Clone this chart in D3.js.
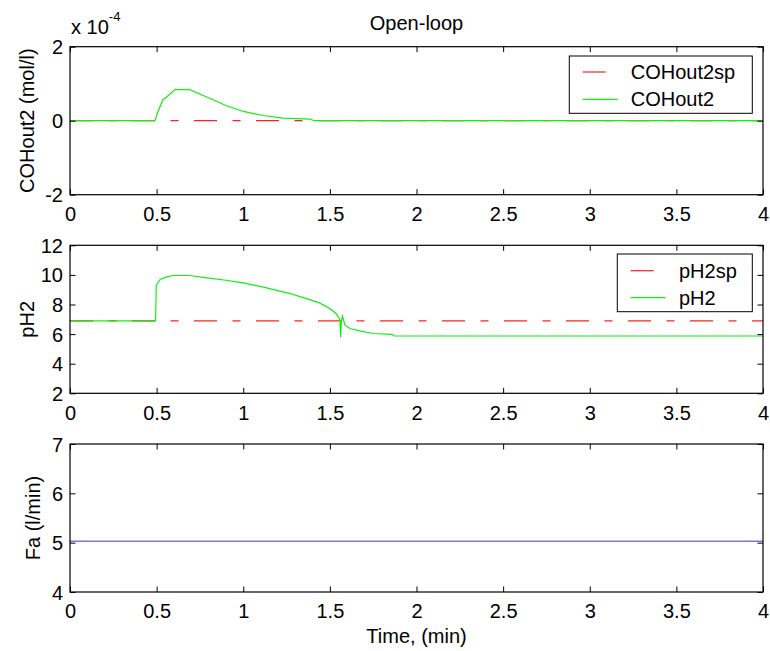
<!DOCTYPE html>
<html><head><meta charset="utf-8">
<script src="https://cdn.jsdelivr.net/npm/d3@7"></script>
<style>
body{margin:0;background:#fff}
text{font-family:"Liberation Sans",Arial,sans-serif;fill:#000}
</style>
</head><body>
<svg id="chart" width="770" height="651"></svg>
<script>
// ---------- data ----------
const timeTicks = [0, 0.5, 1, 1.5, 2, 2.5, 3, 3.5, 4];
const timeTickLabels = ["0", "0.5", "1", "1.5", "2", "2.5", "3", "3.5", "4"];

// Panel 1: COHout2 (mol/l)
const coTicks = [-2e-4, 0, 2e-4];
const coTickLabels = ["-2", "0", "2"];
const coSpTime = [0, 4];
const coSpValues = [0, 0];
const coTime = [0, 0.49, 0.51, 0.535, 0.558, 0.606, 0.69, 0.79, 0.90, 1.0, 1.115, 1.23, 1.385, 1.41, 4];
const coValues = [0, 0, 0.27e-4, 0.56e-4, 0.64e-4, 0.84e-4, 0.84e-4, 0.64e-4, 0.41e-4, 0.25e-4, 0.14e-4, 0.07e-4, 0.045e-4, 0, 0];

// Panel 2: pH2
const phTicks = [2, 4, 6, 8, 10, 12];
const phTickLabels = ["2", "4", "6", "8", "10", "12"];
const phSpTime = [0, 4];
const phSpValues = [6.9, 6.9];
const phTime = [0, 0.494, 0.498, 0.52, 0.558, 0.596, 0.69, 0.79, 0.90, 1.0, 1.135, 1.27, 1.365, 1.44, 1.5, 1.535, 1.548, 1.558, 1.562, 1.567, 1.573, 1.587, 1.615, 1.673, 1.75, 1.86, 1.87, 4];
const phValues = [6.9, 6.9, 9.30, 9.69, 9.87, 9.96, 9.96, 9.80, 9.64, 9.46, 9.12, 8.74, 8.40, 8.11, 7.73, 7.39, 7.17, 6.94, 5.78, 6.94, 7.21, 6.60, 6.38, 6.22, 6.04, 5.98, 5.87, 5.87];

// Panel 3: Fa (l/min)
const faTicks = [4, 5, 6, 7];
const faTickLabels = ["4", "5", "6", "7"];
const faTime = [0, 4];
const faValues = [5.03, 5.03];

// ---------- layout ----------
const svg = d3.select("#chart");
const left = 70, right = 763, panelH = 148;
const tops = [46.7, 245.3, 444];
const FS = 20;
const red = "#ff2020", green = "#10f010", blue = "#2a3ad0";

const x = d3.scaleLinear().domain([0, 4]).range([left, right]);

function panel(top, ydomain, yticks, ylabels, ylabelText, ylabelX, series, legend) {
  const bottom = top + panelH;
  const y = d3.scaleLinear().domain(ydomain).range([bottom, top]);
  const g = svg.append("g");
  const id = "clip" + Math.round(top);
  svg.append("clipPath").attr("id", id).append("rect")
    .attr("x", left).attr("y", top).attr("width", right - left).attr("height", panelH);
  const lg = g.append("g").attr("clip-path", `url(#${id})`);
  series.forEach(s => {
    const pts = s.t.map((t, i) => [t, s.v[i]]);
    lg.append("path").datum(pts)
      .attr("d", d3.line().x(d => x(d[0])).y(d => y(d[1])))
      .attr("fill", "none").attr("stroke", s.color).attr("stroke-width", s.w || 1.2)
      .attr("stroke-dasharray", s.dash || null);
  });
  const tl = 5.5;
  const bx = d3.axisBottom(x).tickValues(timeTicks).tickSize(-tl).tickFormat((d, i) => timeTickLabels[i]).tickPadding(12);
  const tx = d3.axisTop(x).tickValues(timeTicks).tickSize(-tl).tickFormat("");
  const ly = d3.axisLeft(y).tickValues(yticks).tickSize(-tl).tickFormat((d, i) => ylabels[i]).tickPadding(12);
  const ry = d3.axisRight(y).tickValues(yticks).tickSize(-tl).tickFormat("");
  const styleAxis = a => {
    a.selectAll("path").remove();
    a.selectAll("line").attr("stroke", "#000").attr("stroke-width", 1);
    a.selectAll("text").style("font-size", FS + "px").style("font-family", '"Liberation Sans",Arial,sans-serif').attr("fill", "#000");
  };
  g.append("g").attr("transform", `translate(0,${bottom})`).call(bx).call(styleAxis)
    .selectAll("text").attr("dy", "0.72em").attr("y", 12);
  g.append("g").attr("transform", `translate(0,${top})`).call(tx).call(styleAxis);
  g.append("g").attr("transform", `translate(${left},0)`).call(ly).call(styleAxis)
    .selectAll("text").attr("x", -7).attr("dy", "0.35em");
  g.append("g").attr("transform", `translate(${right},0)`).call(ry).call(styleAxis);
  g.append("rect").attr("x", left).attr("y", top).attr("width", right - left).attr("height", panelH)
    .attr("fill", "none").attr("stroke", "#000").attr("stroke-width", 1.2);
  g.append("text").attr("transform", `translate(${ylabelX},${top + panelH / 2}) rotate(-90)`)
    .attr("text-anchor", "middle").attr("dy", "0.35em").style("font-size", FS + "px").text(ylabelText);
  if (legend) {
    const L = legend;
    g.append("rect").attr("x", L.x0).attr("y", top + L.y0).attr("width", L.x1 - L.x0).attr("height", L.y1 - L.y0)
      .attr("fill", "#fff").attr("stroke", "#000").attr("stroke-width", 1);
    L.items.forEach((it, i) => {
      const yy = top + L.rows[i];
      g.append("line").attr("x1", L.lx).attr("x2", L.lx + 35).attr("y1", yy).attr("y2", yy)
        .attr("stroke", it.color).attr("stroke-width", 1.2).attr("stroke-dasharray", it.dash || null);
      g.append("text").attr("x", L.tx).attr("y", yy).attr("dy", "0.35em").style("font-size", FS + "px").text(it.label);
    });
  }
  return y;
}

const spDash = "23,15.5,8,15.5";

panel(tops[0], [-2e-4, 2e-4], coTicks, coTickLabels, "COHout2 (mol/l)", 27,
  [{t: coSpTime, v: coSpValues, color: red, dash: spDash},
   {t: coTime, v: coValues, color: green}],
  {x0: 569.3, x1: 752.3, y0: 56 - tops[0], y1: 113.3 - tops[0], lx: 582.7, tx: 630.7,
   rows: [72 - tops[0], 99.3 - tops[0]],
   items: [{label: "COHout2sp", color: red, dash: spDash}, {label: "COHout2", color: green}]});

panel(tops[1], [2, 12], phTicks, phTickLabels, "pH2", 27,
  [{t: phSpTime, v: phSpValues, color: red, dash: spDash},
   {t: phTime, v: phValues, color: green}],
  {x0: 617.3, x1: 752.3, y0: 254 - tops[1], y1: 311.7 - tops[1], lx: 630.7, tx: 679,
   rows: [270.7 - tops[1], 297.7 - tops[1]],
   items: [{label: "pH2sp", color: red, dash: spDash}, {label: "pH2", color: green}]});

panel(tops[2], [4, 7], faTicks, faTickLabels, "Fa (l/min)", 33,
  [{t: faTime, v: faValues, color: blue, w: 1}], null);

svg.append("text").attr("x", (left + right) / 2).attr("y", 29.5).attr("text-anchor", "middle")
  .style("font-size", FS + "px").text("Open-loop");
const ex = svg.append("text").attr("x", left + 1).attr("y", 33.5).style("font-size", FS + "px");
ex.append("tspan").text("x 10");
ex.append("tspan").attr("dy", -12.5).style("font-size", "13px").text("-4");
svg.append("text").attr("x", (left + right) / 2).attr("y", 643).attr("text-anchor", "middle")
  .style("font-size", FS + "px").text("Time, (min)");
</script>
</body></html>
